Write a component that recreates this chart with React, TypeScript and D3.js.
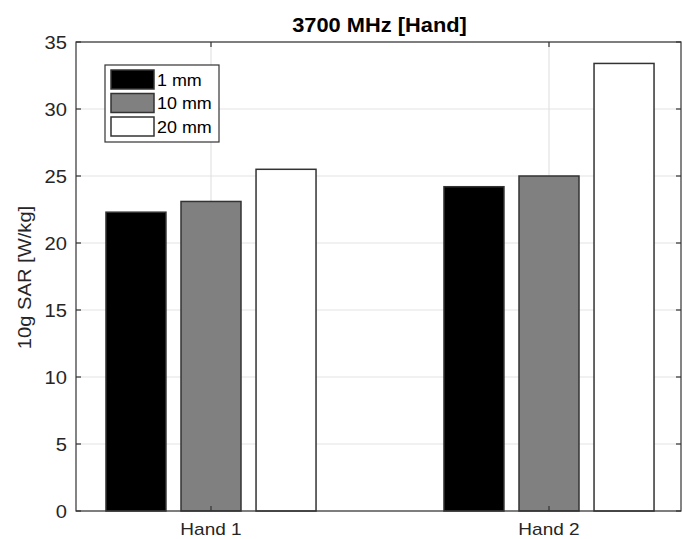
import React from "react";
import * as d3 from "d3";

const categories = ["Hand 1", "Hand 2"];
const seriesNames = ["1 mm", "10 mm", "20 mm"];
const values1mm = [22.3, 24.2];
const values10mm = [23.1, 25.0];
const values20mm = [25.5, 33.4];
const yTicks = [0, 5, 10, 15, 20, 25, 30, 35];
const seriesColors = ["#000000", "#808080", "#ffffff"];

const W = 682, H = 539;
const L = 76, R = 681, T = 42, B = 511;
const SX = 1.12;

function T2(props: { x: number; y: number; anchor?: string; size: number; weight?: string; fill?: string; rot?: number; children: any }) {
  const { x, y, anchor, size, weight, fill, rot, children } = props;
  return (
    <text transform={`translate(${x},${y}) rotate(${rot || 0}) scale(${SX},1)`} textAnchor={anchor || "start"}
      fontSize={size} fontWeight={weight || "normal"} fill={fill || "#262626"}>{children}</text>
  );
}

export default function App() {
  const series = [values1mm, values10mm, values20mm];
  const x = d3.scaleLinear().domain([1 - 135 / 338, 2 + 132 / 338]).range([L, R]);
  const y = d3.scaleLinear().domain([0, 35]).range([B, T]);
  const unit = x(2) - x(1);
  const barW = 0.1775 * unit;
  const step = 0.222 * unit;
  const font = "'Liberation Sans', Arial, Helvetica, sans-serif";
  return (
    <svg width={W} height={H} style={{ position: "absolute", left: 0, top: 0, background: "#fff" }} fontFamily={font}>
      <rect x={0} y={0} width={W} height={H} fill="#fff" />
      {yTicks.map((t) => (
        <line key={"gy" + t} x1={L} x2={R} y1={y(t)} y2={y(t)} stroke="#e3e3e3" strokeWidth={1.2} />
      ))}
      {categories.map((c, i) => (
        <line key={"gx" + c} x1={x(i + 1)} x2={x(i + 1)} y1={T} y2={B} stroke="#e3e3e3" strokeWidth={1.2} />
      ))}
      {series.map((vals, si) =>
        vals.map((v, ci) => {
          const cx = x(ci + 1) + (si - 1) * step;
          return (
            <rect key={si + "-" + ci} x={cx - barW / 2} y={y(v)} width={barW} height={y(0) - y(v)}
              fill={seriesColors[si]} stroke="#333" strokeWidth={1.5} />
          );
        })
      )}
      <rect x={L} y={T} width={R - L} height={B - T} fill="none" stroke="#333" strokeWidth={1.2} />
      {yTicks.map((t) => (
        <g key={"t" + t}>
          <line x1={L} x2={L + 5} y1={y(t)} y2={y(t)} stroke="#333" strokeWidth={1.2} />
          <line x1={R - 5} x2={R} y1={y(t)} y2={y(t)} stroke="#333" strokeWidth={1.2} />
          <T2 x={L - 9} y={y(t) + 6.5} anchor="end" size={18}>{t}</T2>
        </g>
      ))}
      {categories.map((c, i) => (
        <g key={"c" + c}>
          <line x1={x(i + 1)} x2={x(i + 1)} y1={B} y2={B - 5} stroke="#333" strokeWidth={1.2} />
          <line x1={x(i + 1)} x2={x(i + 1)} y1={T} y2={T + 5} stroke="#333" strokeWidth={1.2} />
          <T2 x={x(i + 1)} y={535} anchor="middle" size={17}>{c}</T2>
        </g>
      ))}
      <T2 x={(L + R) / 2 + 1} y={32} anchor="middle" size={19.5} weight="bold" fill="#000">3700 MHz [Hand]</T2>
      <T2 x={31} y={(T + B) / 2 + 1} anchor="middle" size={18} rot={-90}>10g SAR [W/kg]</T2>
      <rect x={105} y={65} width={114} height={77} fill="#fff" stroke="#333" strokeWidth={1.2} />
      {seriesNames.map((n, i) => (
        <g key={n}>
          <rect x={111} y={70 + i * 23.5} width={43} height={19} fill={seriesColors[i]} stroke="#333" strokeWidth={1.5} />
          <T2 x={157} y={85.5 + i * 23.5} size={16} fill="#000">{n}</T2>
        </g>
      ))}
    </svg>
  );
}
